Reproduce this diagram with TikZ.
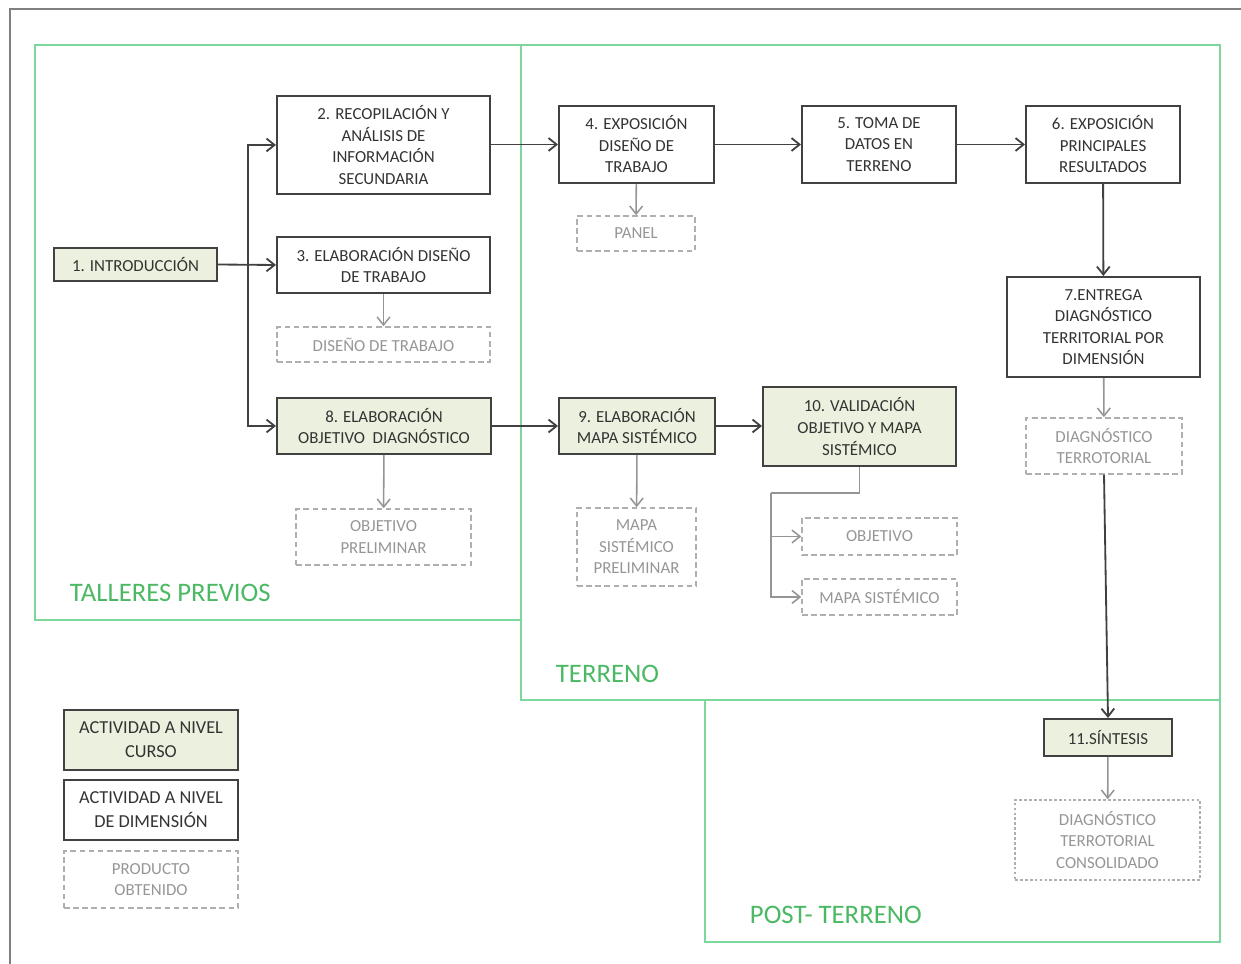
\documentclass[tikz,border=0pt]{standalone}
\usepackage{fontspec}
\setmainfont{Carlito}
\usetikzlibrary{shapes,arrows,positioning,calc,arrows.meta}
\definecolor{framegreen}{RGB}{125,215,155}
\definecolor{titlegreen}{RGB}{75,185,100}
\definecolor{actfill}{RGB}{235,241,222}
\definecolor{boxline}{RGB}{65,65,65}
\definecolor{prodgray}{RGB}{175,175,175}
\definecolor{prodtext}{RGB}{150,150,150}

\begin{document}
\begin{tikzpicture}[x=0.025cm,y=-0.025cm,
    act/.style={draw=boxline,line width=1.4pt,text=black!80,align=center,
        font=\fontsize{12}{15.3}\selectfont,inner sep=1pt},
    curso/.style={act,fill=actfill},
    prod/.style={draw=prodgray,dash pattern=on 4pt off 2.5pt,line width=1.1pt,text=prodtext,align=center,
        font=\fontsize{12}{15.3}\selectfont,inner sep=1pt},
    flow/.style={draw=boxline,line width=1.3pt,-{Straight Barb[length=2mm,width=3.2mm]}},
    prodflow/.style={draw=prodgray!85!black,line width=1.1pt,-{Straight Barb[length=2mm,width=3.2mm]}},
    etapa/.style={draw=framegreen,line width=1.6pt},
    titulo/.style={text=titlegreen,font=\fontsize{19}{22}\selectfont,anchor=west}
]
    \useasboundingbox (0,0) rectangle (1241,964);
    \draw[gray,line width=2pt] (1241,9) -- (10,9) -- (10,964);

    % etapas
    \draw[etapa] (35,45) rectangle (521,620);
    \draw[etapa] (521,45) rectangle (1220,700);
    \draw[etapa] (705,700) rectangle (1220,942);
    \node[titulo] at (65,593) {TALLERES PREVIOS};
    \node[titulo] at (551,674) {TERRENO};
    \node[titulo] at (745,915) {POST- TERRENO};

    % actividades
    \node[curso,minimum width=4.075cm,minimum height=0.825cm] (intro) at (135.5,264.5) {1. INTRODUCCIÓN};
    \node[act,minimum width=5.325cm,minimum height=2.45cm] (recop) at (383.5,145) {2. RECOPILACIÓN Y\\ANÁLISIS DE\\INFORMACIÓN\\SECUNDARIA};
    \node[act,minimum width=5.325cm,minimum height=1.4cm] (diseno) at (383.5,265) {3. ELABORACIÓN DISEÑO\\DE TRABAJO};
    \node[curso,minimum width=5.35cm,minimum height=1.4cm] (objetivo) at (384,426) {8. ELABORACIÓN\\OBJETIVO~~DIAGNÓSTICO};
    \node[act,minimum width=3.875cm,minimum height=1.925cm] (expo) at (636.5,144.5) {4. EXPOSICIÓN\\DISEÑO DE\\TRABAJO};
    \node[act,minimum width=3.85cm,minimum height=1.925cm] (toma) at (879,144.5) {5. TOMA DE\\DATOS EN\\TERRENO};
    \node[act,minimum width=3.85cm,minimum height=1.925cm] (result) at (1103,144.5) {6. EXPOSICIÓN\\PRINCIPALES\\RESULTADOS};
    \node[act,minimum width=4.825cm,minimum height=2.5cm] (entrega) at (1103.5,327) {7.ENTREGA\\DIAGNÓSTICO\\TERRITORIAL POR\\DIMENSIÓN};
    \node[curso,minimum width=3.9cm,minimum height=1.4cm] (mapa) at (637,426) {9. ELABORACIÓN\\MAPA SISTÉMICO};
    \node[curso,minimum width=4.825cm,minimum height=1.975cm] (valid) at (859.5,426.5) {10. VALIDACIÓN\\OBJETIVO Y MAPA\\SISTÉMICO};
    \node[curso,minimum width=3.2cm,minimum height=0.925cm] (sintesis) at (1108,737.5) {11.SÍNTESIS};

    % productos
    \node[prod,minimum width=5.325cm,minimum height=0.875cm] (pdiseno) at (383.5,344.5) {DISEÑO DE TRABAJO};
    \node[prod,minimum width=4.375cm,minimum height=1.4cm] (pobjetivo) at (383.5,537) {OBJETIVO\\PRELIMINAR};
    \node[prod,minimum width=2.95cm,minimum height=0.875cm] (panel) at (636,233.5) {PANEL};
    \node[prod,minimum width=3.9cm,minimum height=1.4cm] (pdiag) at (1104,446) {DIAGNÓSTICO\\TERROTORIAL};
    \node[prod,minimum width=2.975cm,minimum height=1.95cm] (pmapa) at (636.5,547) {MAPA\\SISTÉMICO\\PRELIMINAR};
    \node[prod,minimum width=3.875cm,minimum height=0.925cm] (vobjetivo) at (879.5,536.5) {OBJETIVO};
    \node[prod,minimum width=3.875cm,minimum height=0.9cm] (vmapa) at (879.5,597) {MAPA SISTÉMICO};
    \node[prod,dash pattern=on 2pt off 1.5pt,minimum width=4.625cm,minimum height=2cm] (consol) at (1107.5,840) {DIAGNÓSTICO\\TERROTORIAL\\CONSOLIDADO};

    % leyenda
    \node[curso,font=\fontsize{13}{17}\selectfont,minimum width=4.35cm,minimum height=1.5cm] (leycurso) at (151,740) {ACTIVIDAD A NIVEL\\CURSO};
    \node[act,font=\fontsize{13}{17}\selectfont,minimum width=4.35cm,minimum height=1.5cm] (leydim) at (151,810) {ACTIVIDAD A NIVEL\\DE DIMENSIÓN};
    \node[prod,minimum width=4.35cm,minimum height=1.425cm] (leyprod) at (151,879.5) {PRODUCTO\\OBTENIDO};

    % flujo
    \coordinate (split) at (248,264.5);
    \coordinate (vsplit) at (771,493);
    \draw[flow] (intro.east) -- (diseno.west);
    \draw[flow] (split) |- (recop.west);
    \draw[flow] (split) |- (objetivo.west);
    \draw[flow] (recop.east |- expo.west) -- (expo.west);
    \draw[flow] (expo) -- (toma);
    \draw[flow] (toma) -- (result);
    \draw[flow] (result) -- (entrega);
    \draw[flow] (objetivo) -- (mapa);
    \draw[flow] (mapa.east) -- (valid.west |- mapa.east);
    \draw[flow] (pdiag.south) -- (sintesis.north);

    % productos obtenidos
    \draw[prodflow] (diseno) -- (pdiseno);
    \draw[prodflow] (objetivo) -- (pobjetivo);
    \draw[prodflow] (expo) -- (panel);
    \draw[prodflow] (entrega) -- (pdiag);
    \draw[prodflow] (mapa) -- (pmapa);
    \draw[prodflow] (sintesis) -- (consol);
    \draw[prodflow,-] (valid.south) |- (vsplit);
    \draw[prodflow] (vsplit) |- (vobjetivo.west);
    \draw[prodflow] (vsplit) |- (vmapa.west);
\end{tikzpicture}
\end{document}
